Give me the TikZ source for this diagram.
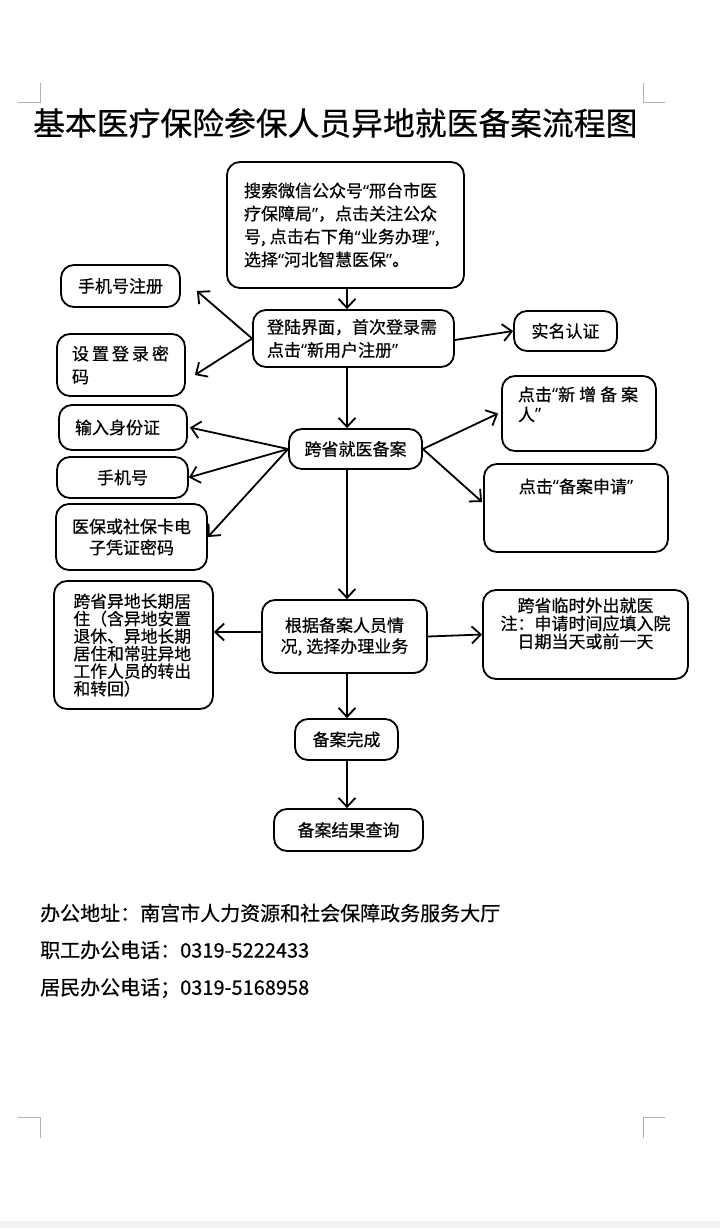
\documentclass[tikz,border=0pt]{standalone}
\usepackage{fontspec}
\setmainfont{Noto Sans CJK SC}[FakeBold=0.5]
\newfontfamily\latq{Noto Sans}
\newcommand{\lqm}{{\latq “}}
\newcommand{\rqm}{{\latq ”}}
\usetikzlibrary{arrows.meta,calc}
\begin{document}
\begin{tikzpicture}[x=1pt,y=-1pt,
  box/.style={draw,line width=1.8pt,rounded corners=13pt,inner sep=0pt,align=center,font=\fontsize{17}{23}\selectfont},
  arr/.style={line width=1.8pt,-{Straight Barb[length=9pt,width=17pt]}},
  cropmark/.style={draw=gray!60,line width=0.9pt},
  plain/.style={anchor=west,inner sep=0pt}]
\fill[white] (0,0) rectangle (720,1228);
\useasboundingbox (0,0) rectangle (720,1228);
\fill[gray!10] (0,1221) rectangle (720,1228);
% crop marks
\draw[cropmark] (18,102) -- (40,102) -- (40,83);
\draw[cropmark] (665,102) -- (643,102) -- (643,83);
\draw[cropmark] (18,1117) -- (40,1117) -- (40,1138);
\draw[cropmark] (665,1117) -- (643,1117) -- (643,1138);
% title
\node[plain,font=\fontsize{31.8}{32}\selectfont] (title) at (33,123) {基本医疗保险参保人员异地就医备案流程图};
% boxes
\node[box,minimum width=237pt,minimum height=126pt,text width=203pt,align=left] (top) at (345.5,225) {搜索微信公众号\lqm 邢台市医\\疗保障局\rqm，点击关注公众\\号,\kern4pt 点击右下角\lqm 业务办理\rqm,\\选择\lqm 河北智慧医保\rqm。};
\node[box,minimum width=201pt,minimum height=57pt,text width=173pt,align=left] (login) at (353.5,338.5) {登陆界面，首次登录需\\点击\lqm 新用户注册\rqm};
\node[box,minimum width=103pt,minimum height=40pt] (realname) at (565.5,331) {实名认证};
\node[box,minimum width=119pt,minimum height=42pt] (phonereg) at (120.5,286) {手机号注册};
\node[box,minimum width=128pt,minimum height=62pt,text width=98pt,align=left] (pwd) at (121,365) {设\kern3pt 置\kern3pt 登\kern3pt 录\kern3pt 密\\码};
\node[box,minimum width=133pt,minimum height=40pt] (cross) at (355.5,449) {跨省就医备案};
\node[box,minimum width=128pt,minimum height=45pt,text width=96pt,align=left] (idcard) at (123,427.5) {输入身份证};
\node[box,minimum width=131pt,minimum height=41pt] (mobile) at (122.5,477.5) {手机号};
\node[box,minimum width=151pt,minimum height=66pt,font=\fontsize{17}{21}\selectfont] (ecard) at (131.5,537) {医保或社保卡电\\子凭证密码};
\node[box,minimum width=154pt,minimum height=75pt,font=\fontsize{17}{20}\selectfont] (addp) at (579,413.5) {\parbox[c][54pt][t]{122pt}{\raggedright 点击\lqm 新\kern4pt 增\kern4pt 备\kern4pt 案\\人\rqm}};
\node[box,minimum width=184pt,minimum height=88pt] (apply) at (576,508) {\parbox[c][59pt][t]{150pt}{\centering 点击\lqm 备案申请\rqm}};
\node[box,minimum width=165pt,minimum height=73pt,font=\fontsize{17}{21}\selectfont] (choose) at (344.5,636.5) {根据备案人员情\\况,\kern4pt 选择办理业务};
\node[box,minimum width=159pt,minimum height=128pt,text width=120pt,align=left,font=\fontsize{16.8}{17.5}\selectfont] (longterm) at (133.5,645) {跨省异地长期居\\住（含异地安置\\退休、异地长期\\居住和常驻异地\\工作人员的转出\\和转回）};
\node[box,minimum width=205pt,minimum height=89pt,font=\fontsize{17}{18}\selectfont] (temp) at (585.5,634.5) {\parbox[c][74pt][t]{190pt}{\centering 跨省临时外出就医\\注：申请时间应填入院\\日期当天或前一天}};
\node[box,minimum width=103pt,minimum height=41pt] (done) at (346.5,739.5) {备案完成};
\node[box,minimum width=149pt,minimum height=42pt] (query) at (348.5,830) {备案结果查询};
% arrows
\coordinate (spine) at (347,0);
\draw[arr] (top.south -| spine) -- (login.north -| spine);
\draw[arr] (login.west) -- ([shift={(16,5)}]phonereg.east);
\draw[arr] (login.west) -- ([shift={(9,10)}]pwd.east);
\draw[arr] ([yshift=-1.5pt]login.east) -- (realname.west);
\draw[arr] (login.south -| spine) -- (cross.north -| spine);
\draw[arr] (cross.west) -- ([xshift=2pt]idcard.east);
\draw[arr] (cross.west) -- (mobile.east);
\draw[arr] (cross.west) -- (ecard.east);
\draw[arr] (cross.east) -- ([xshift=-3pt]addp.west);
\draw[arr] (cross.east) -- ([shift={(-1,-6)}]apply.west);
\draw[arr] (cross.south -| spine) -- (choose.north -| spine);
\draw[arr] ([yshift=4.5pt]choose.west) -- ([yshift=4.5pt]choose.west -| longterm.east);
\draw[arr] (choose.east) -- (temp.west);
\draw[arr] (choose.south -| spine) -- (done.north -| spine);
\draw[arr] (done.south -| spine) -- (query.north -| spine);
% footer
\node[plain,font=\fontsize{20}{24}\selectfont] (addr) at (40,913) {办公地址：南宫市人力资源和社会保障政务服务大厅};
\node[plain,font=\fontsize{20}{24}\selectfont] (tel1) at (40,950) {职工办公电话：0319-5222433};
\node[plain,font=\fontsize{20}{24}\selectfont] (tel2) at (40,988) {居民办公电话；0319-5168958};
\end{tikzpicture}
\end{document}
